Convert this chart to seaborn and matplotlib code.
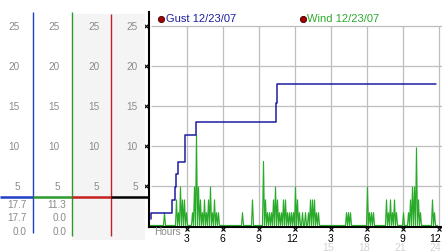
import numpy as np
import matplotlib
matplotlib.use("Agg")
import matplotlib.pyplot as plt
import seaborn as sns

# ---------------- data ----------------
gust_label = "Gust 12/23/07"
wind_label = "Wind 12/23/07"

# gust: step changes (hour, value)
gust_hours = [0.0, 0.05, 1.8, 2.0, 2.15, 2.3, 2.9, 3.8, 10.45, 10.55, 23.8]
gust_vals = [0.8, 1.6, 3.2, 4.8, 6.4, 8.0, 11.3, 12.9, 15.3, 17.7, 17.7]

# wind: 5-minute samples, one row per hour (00:00-12:00)
wind_am = [
    0, 0, 0, 0, 0, 0, 0, 0, 0, 0, 0, 0,
    0, 0, 1.6, 0, 0, 0, 0, 0, 0, 0, 0, 0,
    0, 0, 3.2, 0, 1.6, 0, 4.8, 0, 3.2, 0, 3.2, 0,
    1.6, 0, 0, 0, 0, 0, 1.6, 0, 4.8, 0, 11.3, 0,
    4.8, 0, 3.2, 0, 1.6, 0, 3.2, 0, 1.6, 0, 3.2, 0,
    4.8, 0, 1.6, 0, 3.2, 0, 1.6, 0, 1.6, 0, 0, 0,
    0, 0, 0, 0, 0, 0, 0, 0, 0, 0, 0, 0,
    0, 0, 0, 0, 0, 0, 0, 0, 1.6, 0, 0, 0,
    0, 0, 0, 0, 0, 0, 3.2, 0, 0, 0, 0, 0,
    0, 0, 0, 0, 0, 8.0, 0, 3.2, 0, 1.6, 0, 1.6,
    0, 1.6, 0, 3.2, 0, 4.8, 0, 3.2, 0, 1.6, 0, 1.6,
    0, 3.2, 0, 3.2, 0, 1.6, 0, 1.6, 0, 1.6, 0, 1.6,
]
# wind: 12:00-24:00
wind_pm = [
    0, 4.8, 0, 3.2, 0, 1.6, 0, 0, 1.6, 0, 0, 1.6,
    0, 0, 1.6, 0, 3.2, 0, 3.2, 0, 3.2, 0, 1.6, 0,
    1.6, 0, 0, 0, 0, 0, 0, 0, 0, 0, 0, 0,
    0, 0, 0, 0, 0, 0, 0, 0, 0, 0, 0, 0,
    0, 0, 0, 0, 1.6, 0, 1.6, 0, 1.6, 0, 0, 0,
    0, 0, 0, 0, 0, 0, 0, 0, 0, 0, 0, 0,
    0, 4.8, 0, 1.6, 0, 1.6, 0, 1.6, 0, 0, 0, 0,
    0, 0, 0, 0, 0, 0, 0, 0, 3.2, 0, 1.6, 0,
    3.2, 0, 1.6, 0, 3.2, 0, 1.6, 0, 0, 0, 0, 0,
    0, 1.6, 0, 0, 0, 0, 1.6, 0, 3.2, 0, 4.8, 0,
    4.8, 0, 9.7, 0, 3.2, 0, 1.6, 0, 0, 0, 0, 0,
    0, 0, 0, 0, 0, 0, 3.2, 0, 1.6, 0, 0, 0,
]
wind_step_min = 5

scale_ticks = [25, 20, 15, 10, 5]
hour_ticks = [3, 6, 9, 12, 15, 18, 21, 24]
hour_labels = ["3", "6", "9", "12", "3", "6", "9", "12"]
hour24_ticks = [15, 18, 21, 24]
hour24_labels = ["15", "18", "21", "24"]

stats_gust = ["17.7", "17.7", "0.0"]
stats_wind = ["11.3", "0.0", "0.0"]
marker_level = 3.55

# ---------------- style ----------------
sns.set_theme(style="white")
plt.rcParams['font.family'] = ['Liberation Sans', 'DejaVu Sans']

BLUE_LINE = "#1c1ca0"
BLUE_BAR = "#1f3fc4"
GREEN_LINE = "#2aaa2a"
GREEN_BAR = "#2c9a2c"
RED_BAR = "#c42020"
DOT = "#a00000"
GRID = "#bdbdbd"
LABEL_GRAY = "#8a8a8a"
PALE_GRAY = "#d2d2d2"
PANEL_BG = "#f4f4f4"

W, H = 442, 253
fig = plt.figure(figsize=(W / 100, H / 100), dpi=100)
fig.patch.set_facecolor("white")

def fx(px):
    return px / W

def fy(py):
    return 1 - py / H

# value <-> pixel: py = 226.5 - 8*v ; hour -> px = 150.5 + 12*h
def v_at(py):
    return (226.5 - py) / 8.0

def h_at(px):
    return (px - 150.5) / 12.0

def label_shift(lab, h):
    # multi-digit labels sit slightly left of their tick; keep the last inside
    shift = 0.0
    if len(lab) > 1:
        shift = -2.0 / 12.0
    if h >= 24:
        shift = -3.0 / 12.0
    return h + shift

# ---------------- main axes ----------------
ax_l, ax_r, ax_t, ax_b = 149, 442, 13, 227.5
ax = fig.add_axes([fx(ax_l), fy(ax_b), fx(ax_r - ax_l), (ax_b - ax_t) / H])
ax.set_xlim(h_at(ax_l), h_at(ax_r))
ax.set_ylim(v_at(ax_b), v_at(ax_t))
ax.set_facecolor("white")
for s in ["top", "right"]:
    ax.spines[s].set_visible(False)
for s in ["left", "bottom"]:
    ax.spines[s].set_color("black")
    ax.spines[s].set_linewidth(1.5)
ax.set_xticks([])
ax.set_yticks([])

# grid
ax.hlines(scale_ticks, 0, h_at(ax_r), colors=GRID, linewidth=0.9, zorder=1)
ax.vlines(hour_ticks, 0, max(scale_ticks), colors=GRID, linewidth=0.9, zorder=1)

# wind
wind_vals = np.array(wind_am + wind_pm, dtype=float)
wind_hours = np.arange(len(wind_vals)) * wind_step_min / 60.0
sns.lineplot(x=wind_hours, y=wind_vals, ax=ax, color=GREEN_LINE, linewidth=0.85,
             estimator=None, sort=False, zorder=4)
# gust
sns.lineplot(x=gust_hours, y=gust_vals, ax=ax, color=BLUE_LINE, linewidth=1.1,
             drawstyle="steps-post", estimator=None, sort=False, zorder=5)
if ax.get_legend() is not None:
    ax.get_legend().remove()

# tick glyphs
ax.plot([h_at(146)] * len(scale_ticks), scale_ticks, ls="none", marker="x",
        ms=2.6, mew=0.8, color="black", clip_on=False, zorder=6)
ax.plot(hour_ticks, [v_at(229.5)] * len(hour_ticks), ls="none", marker="x",
        ms=2.6, mew=0.8, color="black", clip_on=False, zorder=6)

# bottom labels
for h, lab in zip(hour_ticks, hour_labels):
    ax.text(label_shift(lab, h), v_at(239.5), lab, ha="center", va="center",
            fontsize=7.5, color="black", clip_on=False)
for h, lab in zip(hour24_ticks, hour24_labels):
    ax.text(label_shift(lab, h), v_at(248.5), lab, ha="center", va="center",
            fontsize=7.5, color=PALE_GRAY, clip_on=False)
ax.text(h_at(154), v_at(232.5), "Hours", ha="left", va="center", fontsize=7.2,
        color=LABEL_GRAY, clip_on=False)

# legend entries
ax.plot([h_at(161)], [v_at(19.5)], ls="none", marker="o", ms=4.5, mfc=DOT,
        mec="#400000", mew=0.6, clip_on=False)
ax.text(h_at(166), v_at(19.5), gust_label, ha="left", va="center", fontsize=8,
        color=BLUE_LINE, clip_on=False)
ax.plot([h_at(302.5)], [v_at(19.5)], ls="none", marker="o", ms=4.5, mfc=DOT,
        mec="#400000", mew=0.6, clip_on=False)
ax.text(h_at(307), v_at(19.5), wind_label, ha="left", va="center", fontsize=8,
        color=GREEN_LINE, clip_on=False)

# ---------------- left scale panels ----------------
axl = fig.add_axes([0, 0, fx(149), 1])
axl.set_xlim(0, 149)
axl.set_ylim(v_at(H), v_at(0))
axl.axis("off")

axl.fill_between([72, 145], v_at(241), v_at(15), color=PANEL_BG, lw=0, zorder=0)

axl.vlines(33, v_at(234), v_at(13), colors=BLUE_BAR, linewidth=1.0, zorder=2)
axl.vlines(72, v_at(237), v_at(13), colors=GREEN_BAR, linewidth=1.0, zorder=2)
axl.vlines(111, v_at(237), v_at(15), colors=RED_BAR, linewidth=1.0, zorder=2)

axl.hlines(marker_level, 0, 33, colors=BLUE_BAR, linewidth=1.8, zorder=3)
axl.hlines(marker_level, 33, 72, colors=GREEN_BAR, linewidth=1.8, zorder=3)
axl.hlines(marker_level, 72, 111, colors=RED_BAR, linewidth=1.8, zorder=3)
axl.hlines(marker_level, 111, 149, colors="black", linewidth=1.8, zorder=3)

for right in [19.8, 60, 99.2, 138]:
    for v in scale_ticks:
        axl.text(right, v, str(v), ha="right", va="center", fontsize=7.2,
                 color=LABEL_GRAY)

for py, g, w in zip([205, 218.5, 232], stats_gust, stats_wind):
    axl.text(26.8, v_at(py), g, ha="right", va="center", fontsize=7.2, color=LABEL_GRAY)
    axl.text(66.2, v_at(py), w, ha="right", va="center", fontsize=7.2, color=LABEL_GRAY)

fig.savefig("out.png", dpi=100)
